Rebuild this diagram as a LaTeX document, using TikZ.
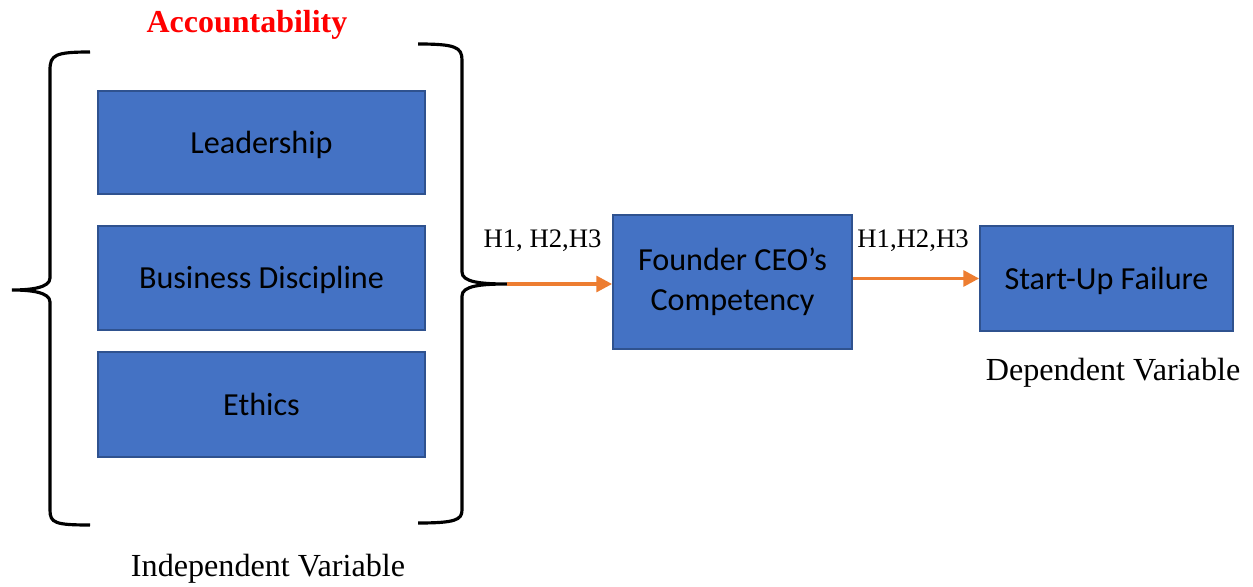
\documentclass[tikz,border=0pt]{standalone}
\usepackage{fontspec}
\setmainfont{Liberation Serif}
\newfontfamily\boxfont{Carlito}
\usetikzlibrary{arrows.meta}
\definecolor{boxblue}{HTML}{4472C4}
\definecolor{boxedge}{HTML}{2F528F}
\definecolor{arroworange}{HTML}{ED7D31}
\tikzset{
  blockbox/.style={draw=boxedge, line width=1pt, fill=boxblue, align=center, font=\boxfont\fontsize{18.3}{23}\selectfont},
  oneline/.style={blockbox, text height=17pt, text depth=4.5pt},
  label/.style={font=\fontsize{18.3}{22}\selectfont},
  hyp/.style={font=\fontsize{15.2}{18}\selectfont},
  link/.style={draw=arroworange, line width=2pt, -{Triangle[length=9pt,width=9pt]}},
  brace/.style={line width=1.8pt}
}
\begin{document}
\begin{tikzpicture}[x=0.02cm, y=-0.02cm]
      \useasboundingbox (0,0) rectangle (1253,587);
      \node[font=\bfseries\fontsize{18.2}{22}\selectfont, text=red] at (247,25) (acc) {Accountability};
      \node[oneline, minimum width=6.54cm, minimum height=2.06cm] at (261.5,142.5) (lead) {Leadership};
      \node[oneline, minimum width=6.54cm, minimum height=2.08cm] at (261.5,278) (bus) {Business Discipline};
      \node[oneline, minimum width=6.54cm, minimum height=2.1cm] at (261.5,404.5) (eth) {Ethics};
      \node[blockbox, minimum width=4.78cm, minimum height=2.68cm] at (732.5,282) (ceo) {Founder CEO’s\\Competency};
      \node[oneline, minimum width=5.06cm, minimum height=2.1cm] at (1106.5,278.5) (fail) {Start-Up Failure};
      \node[label] at (268,569) (iv) {Independent Variable};
      \node[label] at (1113,373) (dv) {Dependent Variable};

      % draw braces
      \draw[brace] (90,52) .. controls (55,52) and (50,55) .. (50,70) -- (50,278)
        .. controls (50,288) and (30,290) .. (12,290)
        .. controls (30,290) and (50,292) .. (50,302) -- (50,510)
        .. controls (50,523) and (55,525) .. (90,525);
      \coordinate (tip) at (507,284);
      \draw[brace] (418,44) .. controls (455,44) and (462,47) .. (462,60) -- (462,272)
        .. controls (462,282) and (480,284) .. (tip)
        .. controls (480,284) and (462,286) .. (462,296) -- (462,510)
        .. controls (462,520) and (455,523) .. (418,523);

      % draw edges
      \draw[link] (tip) -- node[hyp, black, midway, xshift=-0.34cm, yshift=0.86cm] (h1) {H1, H2,H3} (ceo.west |- tip);
      \draw[link] (ceo.east |- fail) -- node[hyp, black, midway, xshift=-0.06cm, yshift=0.76cm] (h2) {H1,H2,H3} (fail);
  \end{tikzpicture}
\end{document}
